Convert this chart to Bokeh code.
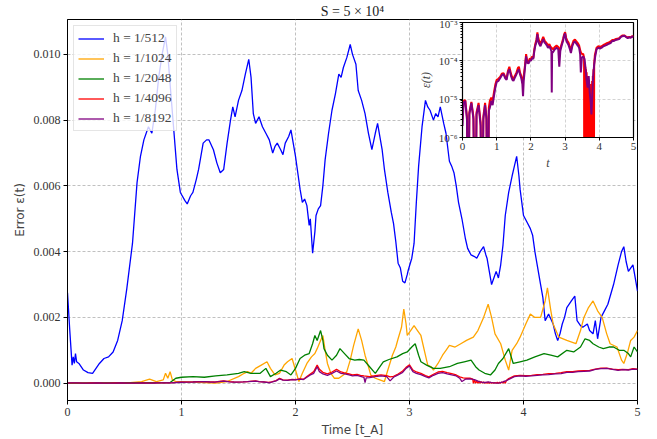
from bokeh.plotting import figure
from bokeh.models import Range1d, PrintfTickFormatter, CustomJSTickFormatter, ColumnDataSource
from bokeh.layouts import column
from bokeh.embed import file_html
from bokeh.resources import INLINE

# ---------------- data (errors of main curves in units of 1e-3) ----------------
SCALE = 1e-3

t_512 = [0.00, 0.02, 0.04, 0.05, 0.06, 0.07, 0.08, 0.10, 0.14, 0.18, 0.22, 0.25, 0.28, 0.32, 0.36,
         0.40, 0.44, 0.48, 0.52, 0.57, 0.61, 0.64, 0.67, 0.71, 0.74, 0.77, 0.80, 0.83, 0.86, 0.88,
         0.90, 0.93, 0.96, 0.99, 1.03, 1.05, 1.08, 1.10, 1.13, 1.15, 1.19, 1.22, 1.24, 1.28, 1.31,
         1.34, 1.37, 1.40, 1.43, 1.45, 1.47, 1.50, 1.53, 1.56, 1.59, 1.61, 1.63, 1.65, 1.68, 1.71,
         1.74, 1.77, 1.80, 1.82, 1.84, 1.87, 1.89, 1.91, 1.94, 1.96, 1.98, 2.00, 2.02, 2.04, 2.06,
         2.08, 2.10, 2.12, 2.13, 2.15, 2.17, 2.18, 2.20, 2.22, 2.24, 2.26, 2.29, 2.32, 2.35, 2.38,
         2.40, 2.42, 2.45, 2.48, 2.50, 2.53, 2.55, 2.58, 2.61, 2.64, 2.67, 2.70, 2.72, 2.74, 2.76,
         2.78, 2.81, 2.84, 2.86, 2.88, 2.90, 2.92, 2.94, 2.96, 2.98, 2.99, 3.02, 3.04, 3.06, 3.08,
         3.11, 3.14, 3.16, 3.18, 3.21, 3.23, 3.25, 3.27, 3.30, 3.32, 3.35, 3.37, 3.39, 3.41, 3.43,
         3.46, 3.49, 3.51, 3.54, 3.57, 3.59, 3.62, 3.65, 3.67, 3.68, 3.70, 3.72, 3.74, 3.76, 3.78,
         3.80, 3.82, 3.84, 3.87, 3.90, 3.92, 3.94, 3.96, 3.97, 4.00, 4.03, 4.06, 4.08, 4.10, 4.12,
         4.15, 4.17, 4.19, 4.22, 4.24, 4.26, 4.28, 4.30, 4.32, 4.34, 4.36, 4.38, 4.42, 4.45, 4.47,
         4.50, 4.52, 4.56, 4.58, 4.61, 4.63, 4.65, 4.68, 4.71, 4.74, 4.79, 4.83, 4.86, 4.88, 4.90,
         4.92, 4.96, 4.98, 5.00]
err_512 = [2.75, 1.6, 0.55, 0.8, 0.6, 0.9, 0.65, 0.6, 0.4, 0.32, 0.3, 0.45, 0.6, 0.75, 0.8,
           0.95, 1.3, 1.9, 2.87, 4.25, 6.1, 6.9, 7.4, 7.8, 7.6, 8.3, 9.3, 10.0, 10.53, 10.0,
           9.1, 7.8, 6.5, 5.8, 5.55, 5.45, 5.7, 5.8, 6.2, 6.5, 7.3, 7.4, 7.4, 7.1, 6.7,
           6.4, 6.5, 7.3, 8.0, 8.4, 8.1, 8.6, 8.9, 9.4, 9.85, 9.3, 8.2, 7.9, 8.1, 7.8,
           7.6, 7.4, 7.0, 7.2, 7.3, 7.1, 6.95, 7.3, 7.5, 7.7, 7.3, 6.9, 6.4, 5.9, 5.5,
           5.6, 5.4, 4.8, 5.0, 3.95, 4.6, 5.1, 5.3, 5.4, 6.0, 6.8, 7.6, 8.3, 8.8, 9.4,
           9.3, 9.6, 9.9, 10.3, 10.0, 9.7, 8.9, 8.6, 8.2, 7.6, 7.1, 7.6, 7.9, 7.5, 7.1,
           6.5, 5.8, 5.2, 4.85, 4.3, 3.65, 3.5, 3.1, 3.05, 3.3, 3.45, 3.8, 4.25, 5.5, 6.6,
           7.8, 8.6, 8.4, 8.3, 8.0, 8.2, 8.1, 8.4, 7.9, 7.6, 6.75, 6.6, 6.4, 6.0, 5.5,
           5.0, 4.4, 4.1, 3.9, 3.85, 3.8, 4.0, 4.15, 3.9, 3.8, 3.4, 3.0, 3.2, 3.4, 3.2,
           3.6, 4.2, 5.1, 5.8, 6.3, 6.6, 6.9, 6.3, 5.9, 5.1, 4.9, 4.7, 4.5, 4.0, 3.6,
           3.0, 2.6, 1.9, 2.1, 1.95, 1.8, 1.5, 1.3, 1.5, 1.8, 2.0, 2.3, 2.5, 2.65, 1.9,
           1.75, 1.7, 1.8, 1.6, 1.5, 1.9, 1.35, 2.0, 2.2, 2.4, 3.0, 3.6, 4.0, 4.15, 3.7,
           3.4, 3.6, 3.2, 2.8]

t_1024 = [0.00, 0.50, 0.65, 0.72, 0.78, 0.84, 0.86, 0.88, 0.90, 0.92, 0.95, 1.00, 1.20, 1.30, 1.40,
          1.50, 1.55, 1.58, 1.61, 1.65, 1.70, 1.75, 1.78, 1.82, 1.86, 1.90, 1.93, 1.97, 2.00, 2.03,
          2.06, 2.10, 2.14, 2.17, 2.19, 2.22, 2.24, 2.26, 2.28, 2.31, 2.34, 2.38, 2.42, 2.45, 2.48,
          2.51, 2.53, 2.55, 2.58, 2.61, 2.64, 2.66, 2.70, 2.74, 2.78, 2.81, 2.85, 2.88, 2.90, 2.93,
          2.95, 2.97, 2.98, 3.01, 3.04, 3.07, 3.10, 3.13, 3.16, 3.19, 3.21, 3.25, 3.29, 3.32, 3.35,
          3.40, 3.45, 3.50, 3.56, 3.60, 3.65, 3.69, 3.72, 3.75, 3.80, 3.84, 3.87, 3.90, 3.94, 3.97,
          4.02, 4.06, 4.10, 4.15, 4.19, 4.21, 4.24, 4.26, 4.31, 4.38, 4.46, 4.50, 4.53, 4.57, 4.61,
          4.65, 4.69, 4.73, 4.76, 4.82, 4.86, 4.88, 4.91, 4.94, 4.97, 5.00]
err_1024 = [0.0, 0.0, 0.05, 0.12, 0.05, 0.1, 0.3, 0.15, 0.35, 0.1, 0.05, 0.05, 0.02, 0.0, 0.05,
            0.2, 0.3, 0.35, 0.3, 0.45, 0.55, 0.65, 0.45, 0.25, 0.3, 0.55, 0.65, 0.75, 0.4, 0.05,
            0.3, 0.6, 0.8, 0.9, 1.05, 1.3, 1.45, 1.0, 0.6, 0.3, 0.15, 0.15, 0.25, 0.35, 0.7,
            1.15, 1.4, 1.65, 1.3, 0.85, 0.5, 0.25, 0.15, 0.1, 0.05, 0.4, 0.85, 1.1, 1.35, 1.7,
            2.25, 1.8, 1.45, 1.6, 1.75, 1.6, 1.45, 1.0, 0.55, 0.5, 0.4, 0.6, 0.85, 1.0, 1.15,
            1.1, 1.2, 1.3, 1.4, 1.6, 2.0, 2.4, 2.0, 1.5, 1.2, 0.7, 0.4, 1.0, 1.2, 1.4,
            1.8, 2.1, 2.0, 2.0, 2.5, 2.9, 2.2, 1.8, 1.4, 1.3, 1.2, 1.6, 2.0, 2.3, 2.5,
            2.2, 2.0, 1.5, 1.2, 1.1, 0.7, 0.6, 0.9, 1.3, 1.4, 1.6]

t_2048 = [0.00, 0.90, 0.95, 1.00, 1.10, 1.20, 1.30, 1.40, 1.50, 1.55, 1.61, 1.69, 1.74, 1.78, 1.83,
          1.87, 1.92, 1.96, 2.00, 2.04, 2.08, 2.12, 2.15, 2.17, 2.19, 2.22, 2.24, 2.25, 2.28, 2.32,
          2.36, 2.39, 2.43, 2.47, 2.52, 2.56, 2.60, 2.65, 2.70, 2.73, 2.77, 2.82, 2.89, 2.94, 2.98,
          3.02, 3.05, 3.08, 3.10, 3.15, 3.21, 3.27, 3.35, 3.42, 3.48, 3.54, 3.58, 3.61, 3.66, 3.71,
          3.75, 3.78, 3.82, 3.87, 3.91, 3.97, 4.03, 4.10, 4.18, 4.24, 4.30, 4.38, 4.44, 4.50, 4.54,
          4.58, 4.61, 4.66, 4.70, 4.75, 4.79, 4.84, 4.88, 4.92, 4.94, 4.97, 5.00]
err_2048 = [0.0, 0.02, 0.15, 0.18, 0.2, 0.18, 0.22, 0.25, 0.3, 0.35, 0.3, 0.3, 0.45, 0.2, 0.3,
            0.4, 0.35, 0.25, 0.45, 0.75, 0.85, 0.9, 1.2, 1.45, 1.3, 1.6, 1.3, 1.05, 0.85, 0.7,
            0.85, 1.05, 0.9, 0.75, 0.7, 0.72, 0.7, 0.5, 0.3, 0.45, 0.65, 0.72, 0.8, 0.9, 0.95,
            1.1, 1.2, 0.85, 0.65, 0.55, 0.45, 0.45, 0.5, 0.6, 0.65, 0.7, 0.5, 0.4, 0.3, 0.25,
            0.4, 0.6, 0.75, 1.05, 0.6, 0.65, 0.7, 0.8, 0.9, 0.85, 0.8, 1.0, 0.95, 1.1, 1.35,
            1.3, 1.2, 1.1, 1.05, 1.1, 1.1, 1.0, 1.0, 0.9, 0.8, 1.1, 0.95]

# finest two resolutions, absolute error values (also shown in the log-scale inset)
t_4096 = [0.00, 0.03, 0.08, 0.13, 0.17, 0.20, 0.26, 0.32, 0.37, 0.41, 0.47, 0.53, 0.57, 0.61, 0.66,
          0.70, 0.74, 0.77, 0.80, 0.84, 0.88, 0.92, 0.96, 1.00, 1.05, 1.10, 1.15, 1.20, 1.25, 1.29,
          1.33, 1.37, 1.42, 1.46, 1.49, 1.54, 1.58, 1.62, 1.65, 1.68, 1.72, 1.76, 1.79, 1.83, 1.86,
          1.89, 1.93, 1.97, 2.00, 2.04, 2.07, 2.10, 2.13, 2.16, 2.19, 2.21, 2.24, 2.28, 2.32, 2.36,
          2.40, 2.43, 2.47, 2.50, 2.54, 2.57, 2.60, 2.65, 2.70, 2.75, 2.80, 2.83, 2.86, 2.90, 2.94,
          2.97, 3.00, 3.03, 3.06, 3.10, 3.14, 3.17, 3.21, 3.25, 3.29, 3.33, 3.37, 3.41, 3.44, 3.47,
          3.50, 3.53, 3.555, 3.56, 3.57, 3.58, 3.59, 3.60, 3.61, 3.62, 3.63, 3.64, 3.65, 3.66, 3.67,
          3.68, 3.69, 3.70, 3.71, 3.72, 3.73, 3.74, 3.75, 3.76, 3.77, 3.78, 3.79, 3.80, 3.81, 3.82,
          3.83, 3.84, 3.85, 3.87, 3.92, 3.97, 4.02, 4.07, 4.12, 4.17, 4.22, 4.28, 4.33, 4.38, 4.43,
          4.48, 4.53, 4.58, 4.63, 4.68, 4.73, 4.78, 4.83, 4.87, 4.92, 4.96, 5.00]
err_4096 = [3e-6, 9e-6, 9.5e-6, 3.5e-6, 1e-9, 4.5e-6, 8.5e-6, 3.5e-6, 1e-9, 4.5e-6, 8e-6, 2.5e-6, 1e-9, 3.5e-6, 8e-6,
            3.5e-6, 1e-9, 6e-6, 9e-6, 1.1e-5, 9e-6, 1.5e-5, 2.4e-5, 3.2e-5, 3.4e-5, 3.8e-5, 4.6e-5, 4.8e-5, 3.8e-5, 3.5e-5,
            5.5e-5, 7e-5, 4.5e-5, 3.6e-5, 3.4e-5, 4.2e-5, 5e-5, 6.5e-5, 7e-5, 5e-5, 4e-5, 2.6e-5, 4e-5, 8e-5, 1.5e-4,
            1.0e-4, 9.5e-5, 1.15e-4, 1.1e-4, 1.3e-4, 1.2e-4, 2.0e-4, 2.8e-4, 3.5e-4, 5.5e-4, 4.2e-4, 3.3e-4, 2.8e-4, 3.4e-4, 4.2e-4,
            3.4e-4, 3.1e-4, 2.8e-4, 2.5e-4, 2.7e-4, 2.4e-4, 2.2e-4, 2.0e-4, 2.3e-4, 2.5e-4, 2.3e-4, 1.9e-4, 2.1e-4, 2.8e-4, 3.7e-4,
            4.8e-4, 5.6e-4, 4.0e-4, 3.4e-4, 3.0e-4, 2.3e-4, 1.9e-4, 2.7e-4, 3.4e-4, 3.6e-4, 3.2e-4, 2.9e-4, 2.5e-4, 1.9e-4, 1.6e-4,
            1.5e-4, 1.5e-4, 1.2e-4, 1e-9, 9e-5, 1e-9, 7e-5, 1e-9, 6e-5, 1e-9, 5e-5, 1e-9, 4e-5, 1e-9, 3e-5,
            1e-9, 3e-5, 1e-9, 2.5e-5, 1e-9, 2e-5, 1e-9, 2e-5, 1e-9, 2.5e-5, 1e-9, 3e-5, 1e-9, 4e-5, 1e-9,
            6e-5, 1e-9, 8e-5, 1.4e-4, 2.2e-4, 2.4e-4, 2.3e-4, 2.4e-4, 2.6e-4, 2.7e-4, 2.9e-4, 3.0e-4, 3.2e-4, 3.5e-4, 3.5e-4,
            3.7e-4, 3.8e-4, 3.9e-4, 4.3e-4, 4.6e-4, 4.6e-4, 4.3e-4, 4.1e-4, 4.2e-4, 4.1e-4, 4.4e-4, 4.3e-4]

t_8192 = [0.00, 0.03, 0.08, 0.13, 0.17, 0.20, 0.26, 0.32, 0.37, 0.41, 0.47, 0.53, 0.57, 0.61, 0.66,
          0.70, 0.74, 0.77, 0.80, 0.84, 0.88, 0.92, 0.96, 1.00, 1.05, 1.10, 1.15, 1.20, 1.25, 1.29,
          1.33, 1.37, 1.42, 1.46, 1.49, 1.54, 1.58, 1.62, 1.65, 1.68, 1.72, 1.75, 1.77, 1.79, 1.83,
          1.86, 1.89, 1.93, 1.97, 2.00, 2.04, 2.07, 2.10, 2.13, 2.16, 2.19, 2.21, 2.24, 2.28, 2.32,
          2.36, 2.40, 2.43, 2.47, 2.50, 2.54, 2.57, 2.60, 2.61, 2.62, 2.65, 2.70, 2.75, 2.80, 2.83,
          2.86, 2.90, 2.94, 2.97, 3.00, 3.03, 3.06, 3.10, 3.14, 3.17, 3.21, 3.25, 3.29, 3.33, 3.37,
          3.41, 3.44, 3.46, 3.49, 3.53, 3.57, 3.60, 3.63, 3.66, 3.69, 3.72, 3.75, 3.77, 3.79, 3.82,
          3.85, 3.88, 3.92, 3.97, 4.02, 4.07, 4.12, 4.17, 4.22, 4.28, 4.33, 4.38, 4.43, 4.48, 4.53,
          4.58, 4.63, 4.68, 4.73, 4.78, 4.83, 4.87, 4.92, 4.96, 5.00]
err_8192 = [2e-6, 8e-6, 9e-6, 3e-6, 1e-9, 4e-6, 8e-6, 3e-6, 1e-9, 4e-6, 7e-6, 2e-6, 1e-9, 3e-6, 7e-6,
            3e-6, 1e-9, 5e-6, 6e-6, 9e-6, 7e-6, 1.2e-5, 2e-5, 2.8e-5, 3e-5, 3.5e-5, 4.2e-5, 4.5e-5, 3.5e-5, 3.2e-5,
            5e-5, 6e-5, 4e-5, 3.2e-5, 3e-5, 3.8e-5, 4.5e-5, 5.5e-5, 6e-5, 4.5e-5, 3.5e-5, 2.5e-5, 1.2e-5, 3e-5, 7e-5,
            1.3e-4, 9e-5, 8.5e-5, 1.05e-4, 1.0e-4, 1.2e-4, 1.1e-4, 1.8e-4, 2.5e-4, 3e-4, 5e-4, 3.5e-4, 2.8e-4, 2.4e-4, 3e-4,
            3.7e-4, 3e-4, 2.8e-4, 2.5e-4, 2.2e-4, 2.4e-4, 2.1e-4, 1.8e-4, 1.5e-5, 1.6e-4, 1.7e-4, 2.0e-4, 2.2e-4, 2.0e-4, 7e-5,
            1.8e-4, 2.5e-4, 3.3e-4, 4.5e-4, 5.2e-4, 3.5e-4, 3e-4, 2.6e-4, 2.0e-4, 1.6e-4, 2.4e-4, 3.0e-4, 3.2e-4, 2.8e-4, 2.5e-4,
            2.2e-4, 1.5e-4, 5e-5, 1.2e-4, 1.3e-4, 1.1e-4, 6e-5, 3e-5, 2e-5, 4e-5, 1.5e-5, 8e-6, 4e-6, 1e-5, 4e-5,
            8e-5, 1.3e-4, 2.0e-4, 2.2e-4, 2.1e-4, 2.2e-4, 2.4e-4, 2.5e-4, 2.6e-4, 2.8e-4, 2.9e-4, 3.3e-4, 3.3e-4, 3.5e-4, 3.6e-4,
            3.7e-4, 4.2e-4, 4.4e-4, 4.5e-4, 4.2e-4, 3.9e-4, 4.1e-4, 4.0e-4, 4.3e-4, 4.2e-4]

labels = ["h = 1/512", "h = 1/1024", "h = 1/2048", "h = 1/4096", "h = 1/8192"]
colors = ["#0000ff", "#ffa500", "#008000", "#ff0000", "#800080"]

x_ticks = [0, 1, 2, 3, 4, 5]
y_ticks = [0.000, 0.002, 0.004, 0.006, 0.008, 0.010]
inset_x_ticks = [0, 1, 2, 3, 4, 5]

SERIF = "Liberation Serif"
SANS = "DejaVu Sans"

# ---------------- main figure ----------------
W, H = 657, 439
LB = 67
p = figure(width=W, height=H, output_backend="svg", toolbar_location=None,
           x_range=Range1d(0, 5), y_range=Range1d(-0.000527, 0.01106),
           min_border_left=LB, min_border_right=20, min_border_top=0, min_border_bottom=4,
           title="S = 5 × 10⁴")
p.title.align = "center"
p.title.text_font = SERIF
p.title.text_font_size = "14px"
p.title.text_font_style = "normal"
p.title.text_color = "#222222"
p.title.standoff = 2

series = [(t_512, [v * SCALE for v in err_512]),
          (t_1024, [v * SCALE for v in err_1024]),
          (t_2048, [v * SCALE for v in err_2048]),
          (t_4096, err_4096),
          (t_8192, err_8192)]
for (tt, ee), lab, col in zip(series, labels, colors):
    src = ColumnDataSource(dict(t=tt, e=ee))
    p.line("t", "e", source=src, color=col, line_width=1.3, legend_label=lab)

for ax in (p.xaxis[0], p.yaxis[0]):
    ax.axis_line_color = "black"
    ax.major_tick_line_color = "black"
    ax.major_tick_out = 4
    ax.major_tick_in = 0
    ax.minor_tick_line_color = None
    ax.major_label_text_font = SERIF
    ax.major_label_text_font_size = "12px"
    ax.major_label_text_color = "#333333"
    ax.axis_label_text_font = SANS
    ax.axis_label_text_font_size = "12px"
    ax.axis_label_text_font_style = "normal"
    ax.major_label_standoff = 3
    ax.axis_label_standoff = 4
p.xaxis.ticker = x_ticks
p.yaxis.ticker = y_ticks
p.yaxis.formatter = PrintfTickFormatter(format="%.3f")
p.xaxis.axis_label = "Time [t_A]"
p.yaxis.axis_label = "Error ε(t)"
p.outline_line_color = "black"
p.outline_line_width = 1
for g in (p.xgrid[0], p.ygrid[0]):
    g.grid_line_color = "#b0b0b0"
    g.grid_line_dash = "3 2"
    g.grid_line_width = 0.8

lg = p.legend[0]
lg.location = "top_left"
lg.margin = 6
lg.padding = 4
lg.spacing = 4
lg.label_height = 15
lg.glyph_height = 15
lg.glyph_width = 26
lg.label_standoff = 9
lg.label_text_font = SERIF
lg.label_text_font_size = "13.5px"
lg.background_fill_alpha = 0.8
lg.border_line_color = "#cccccc"
lg.border_line_width = 1

# ---------------- inset ----------------
IL, IT = LB, 5   # same left border as main figure (column aligns plot frames)
ins = figure(frame_width=171, frame_height=115, output_backend="svg", toolbar_location=None,
             x_range=Range1d(0, 5), y_range=Range1d(1e-6, 1e-3), y_axis_type="log",
             min_border_left=IL, min_border_right=4, min_border_top=IT, min_border_bottom=30)
ins.border_fill_color = None
ins.background_fill_color = "white"
ins.outline_line_color = "black"
ins.outline_line_width = 1.2
ins.line(t_4096, err_4096, color=colors[3], line_width=2)
ins.line(t_8192, err_8192, color=colors[4], line_width=2)
for ax in (ins.xaxis[0], ins.yaxis[0]):
    ax.axis_line_color = "black"
    ax.major_tick_line_color = "black"
    ax.major_tick_out = 3
    ax.major_tick_in = 0
    ax.minor_tick_out = 2
    ax.minor_tick_in = 0
    ax.major_label_text_font = SERIF
    ax.major_label_text_font_size = "11px"
    ax.major_label_text_color = "#333333"
    ax.axis_label_text_font = SERIF
    ax.axis_label_text_font_size = "12px"
    ax.axis_label_text_font_style = "italic"
    ax.major_label_standoff = 2
    ax.axis_label_standoff = 3
ins.xaxis.ticker = inset_x_ticks
ins.xaxis.minor_tick_line_color = None
ins.xaxis.axis_label = "t"
ins.yaxis.axis_label = "ε(t)"
ins.yaxis.formatter = CustomJSTickFormatter(code="""
const e = Math.round(Math.log10(tick));
const sup = {"-": "\u207b", "0": "\u2070", "1": "\u00b9", "2": "\u00b2", "3": "\u00b3",
             "4": "\u2074", "5": "\u2075", "6": "\u2076", "7": "\u2077", "8": "\u2078", "9": "\u2079"};
return "10" + String(e).split("").map(c => sup[c]).join("");
""")
for g in (ins.xgrid[0], ins.ygrid[0]):
    g.grid_line_color = "#c8c8c8"
    g.grid_line_dash = "3 2"
    g.grid_line_width = 0.8

# overlap the inset onto the main figure (inset frame at page x=462, y=22)
top = 22 - IT
left = 462 - IL
ins.margin = (top - H, 0, H - top - 160, left)

layout = column(p, ins, spacing=0)
open("out.html", "w").write(file_html(layout, INLINE))
